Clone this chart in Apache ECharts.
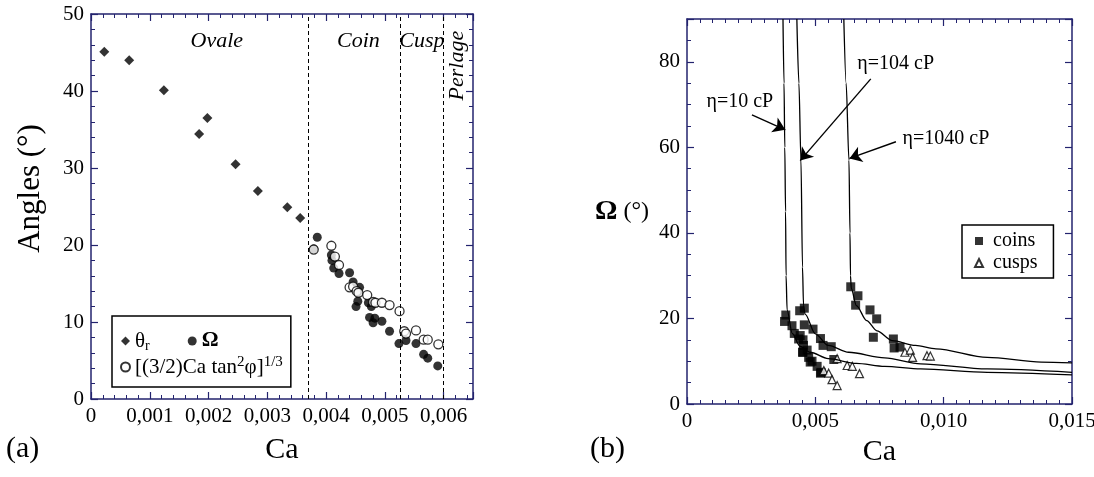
<!DOCTYPE html>
<html>
<head>
<meta charset="utf-8">
<title>Angles vs Ca</title>
<script src="https://cdn.jsdelivr.net/npm/echarts@6/dist/echarts.min.js"></script>
<style>
  html, body { margin: 0; padding: 0; background: #fff; }
  #chart { width: 1094px; height: 477px; }
</style>
</head>
<body>
<div id="chart"></div>
<script>
// ---- left panel (a): angles vs Ca ----
const thetaR = [
  [0.000226, 45.1], [0.00065, 44.0], [0.00124, 40.1], [0.00198, 36.5], [0.00184, 34.4],
  [0.00246, 30.5], [0.00284, 27.0], [0.00334, 24.9], [0.00356, 23.5]
];
const omegaA = [
  [0.00379, 19.5], [0.00385, 21.0], [0.00409, 18.7], [0.0041, 18.0], [0.00413, 17.0],
  [0.00422, 16.3], [0.0044, 16.4], [0.00446, 15.2], [0.00457, 14.5], [0.00454, 13.9],
  [0.00454, 12.7], [0.00451, 12.0], [0.00472, 12.5], [0.00477, 12.0], [0.00474, 10.6],
  [0.00483, 10.5], [0.0048, 9.9], [0.00495, 10.1], [0.00508, 8.8], [0.00524, 7.2],
  [0.00536, 7.6], [0.00553, 7.2], [0.00566, 5.8], [0.00573, 5.3], [0.0059, 4.3]
];
const formulaA = [
  [0.00379, 19.4], [0.00409, 19.9], [0.00415, 18.5], [0.00422, 17.4], [0.0044, 14.5],
  [0.00446, 14.6], [0.00452, 14.0], [0.00455, 13.8], [0.0047, 13.5], [0.0048, 12.6],
  [0.00484, 12.5], [0.00495, 12.5], [0.00508, 12.2], [0.00525, 11.4], [0.00533, 8.8],
  [0.00536, 8.5], [0.00553, 8.9], [0.00566, 7.7], [0.00573, 7.7], [0.00591, 7.1]
];
const regimeBounds = [0.0037, 0.00526, 0.006];
const regimeNames = ['Ovale', 'Coin', 'Cusp', 'Perlage'];
const regimeLabelPos = [[0.00214, 46.5], [0.00455, 46.5], [0.00563, 46.5], [0.00623, 43.3]];

// ---- right panel (b): Omega vs Ca ----
const coins = [
  [0.0038, 19.3], [0.00385, 20.8], [0.00409, 18.3], [0.00418, 16.5], [0.00439, 21.8],
  [0.00457, 22.4], [0.00457, 18.5], [0.00441, 16.0], [0.00452, 15.0], [0.00454, 13.7],
  [0.00452, 12.1], [0.00468, 12.6], [0.00474, 10.9], [0.00491, 17.5], [0.00487, 10.0],
  [0.00507, 8.8], [0.00522, 7.4], [0.0052, 15.3], [0.0053, 13.7], [0.00562, 13.4],
  [0.00572, 10.4], [0.00435, 15.2], [0.0045, 12.1], [0.0048, 9.8], [0.0052, 7.2],
  [0.00638, 27.4], [0.00666, 25.3], [0.00657, 23.1], [0.00713, 22.0], [0.00739, 19.9],
  [0.00726, 15.6], [0.00804, 15.2], [0.00807, 13.1], [0.0083, 13.3]
];
const cusps = [
  [0.00585, 10.6], [0.00624, 9.0], [0.00644, 8.8], [0.00672, 7.1], [0.00533, 7.8],
  [0.00552, 7.2], [0.00565, 5.7], [0.00585, 4.3], [0.00849, 12.1], [0.0087, 12.6],
  [0.00879, 10.9], [0.00935, 11.3], [0.00948, 11.2]
];
const curveEta10 = [
  [0.00374, 90], [0.00378, 75], [0.00381, 60], [0.00384, 45], [0.00386, 30], [0.0039, 22],
  [0.0041, 16.5], [0.0044, 13.5], [0.0048, 12.1], [0.0055, 10.6], [0.0066, 9.5],
  [0.0077, 8.8], [0.0091, 8.2], [0.0117, 7.4], [0.015, 6.8]
];
const curveEta104 = [
  [0.00428, 90], [0.00436, 75], [0.00444, 57], [0.0045, 32], [0.00454, 23], [0.0046, 21],
  [0.005, 16.4], [0.0055, 13.7], [0.0063, 12.1], [0.0077, 10.8], [0.0091, 9.4],
  [0.0117, 8.2], [0.015, 7.4]
];
const curveEta1040 = [
  [0.00611, 90], [0.0062, 75], [0.00631, 57], [0.00635, 40], [0.00637, 30], [0.0064, 27],
  [0.0066, 23], [0.007, 19.5], [0.0074, 17.1], [0.008, 14.8], [0.0089, 13.7],
  [0.0097, 12.9], [0.0117, 10.9], [0.0138, 9.8], [0.015, 9.6]
];
const etaLabels = ['η=10 cP', 'η=104 cP', 'η=1040 cP'];
const etaLabelPos = [[0.00206, 70.6], [0.00813, 79.5], [0.01009, 62]];
const etaArrows = [
  [[0.00253, 67.6], [0.00383, 64.1]],
  [[0.00716, 76], [0.00441, 56.9]],
  [[0.00814, 61.3], [0.00633, 57.4]]
];

const FONT = 'Liberation Serif';
const AXIS_COLOR = '#23236e';

function frameAxis(base, extra) {
  return Object.assign({
    type: 'value',
    axisLine: { show: true, onZero: false, lineStyle: { color: AXIS_COLOR, width: 1.5 } },
    axisTick: { show: true, inside: true, length: 7, lineStyle: { color: AXIS_COLOR, width: 1.2 } },
    splitLine: { show: false },
    axisLabel: { show: false }
  }, base, extra);
}

function minor(n) {
  return { show: true, splitNumber: n, length: 4, lineStyle: { color: AXIS_COLOR, width: 1 } };
}

const labelStyle = { show: true, color: '#000', fontFamily: FONT, fontSize: 21, margin: 7 };

const fmtComma = v => v === 0 ? '0' : v.toFixed(3).replace('.', ',');

const chart = echarts.init(document.getElementById('chart'));

const option = {
  animation: false,
  backgroundColor: '#fff',
  grid: [
    { left: 91, top: 14, width: 382, height: 385, outerBoundsMode: 'none' },
    { left: 687, top: 19, width: 385, height: 385, outerBoundsMode: 'none' }
  ],
  xAxis: [
    frameAxis({ gridIndex: 0, min: 0, max: 0.0065, interval: 0.001, minorTick: minor(5) }, {
      position: 'bottom',
      axisLabel: Object.assign({}, labelStyle, { formatter: v => v > 0.00601 ? '' : fmtComma(v) }),
      name: 'Ca', nameLocation: 'middle', nameGap: 36,
      nameTextStyle: { color: '#000', fontFamily: FONT, fontSize: 30 }
    }),
    frameAxis({ gridIndex: 0, min: 0, max: 0.0065, interval: 0.001, minorTick: minor(5) }, { position: 'top' }),
    frameAxis({ gridIndex: 1, min: 0, max: 0.015, interval: 0.005, minorTick: minor(10) }, {
      position: 'bottom',
      axisLabel: Object.assign({}, labelStyle, { formatter: fmtComma }),
      name: 'Ca', nameLocation: 'middle', nameGap: 31,
      nameTextStyle: { color: '#000', fontFamily: FONT, fontSize: 30 }
    }),
    frameAxis({ gridIndex: 1, min: 0, max: 0.015, interval: 0.005, minorTick: minor(10) }, { position: 'top' })
  ],
  yAxis: [
    frameAxis({ gridIndex: 0, min: 0, max: 50, interval: 10, minorTick: minor(5) }, {
      position: 'left',
      axisLabel: labelStyle,
      name: 'Angles (°)', nameLocation: 'middle', nameGap: 45,
      nameTextStyle: { color: '#000', fontFamily: FONT, fontSize: 31, padding: [0, 0, 0, 36] }
    }),
    frameAxis({ gridIndex: 0, min: 0, max: 50, interval: 10, minorTick: minor(5) }, { position: 'right' }),
    frameAxis({ gridIndex: 1, min: 0, max: 90, interval: 20, minorTick: minor(4) }, {
      position: 'left',
      axisLabel: Object.assign({}, labelStyle, { formatter: v => v > 80 ? '' : String(v) }),
      name: '{o|Ω} (°)', nameLocation: 'middle', nameGap: 38, nameRotate: 0,
      nameTextStyle: {
        color: '#000', fontFamily: FONT, fontSize: 24, align: 'right',
        rich: { o: { fontFamily: FONT, fontSize: 28, fontWeight: 'bold', color: '#000' } }
      }
    }),
    frameAxis({ gridIndex: 1, min: 0, max: 90, interval: 20, minorTick: minor(4) }, { position: 'right' })
  ],
  legend: [
    {
      data: ['theta', 'omega', 'formula'],
      left: 112, top: 316, width: 168,
      orient: 'horizontal',
      itemWidth: 9, itemHeight: 9, itemGap: 2,
      padding: [13, 8, 8, 8],
      borderColor: '#000', borderWidth: 1.5,
      backgroundColor: '#fff',
      selectedMode: false,
      formatter: name => {
        if (name === 'theta') return 'θ{sub|r}{gap|}';
        if (name === 'omega') return '{b|Ω}';
        return '[(3/2)Ca tan{sup|2}φ]{sup|1/3}';
      },
      textStyle: {
        color: '#000', fontFamily: FONT, fontSize: 21, lineHeight: 24,
        rich: {
          sub: { fontFamily: FONT, fontSize: 14, verticalAlign: 'bottom', lineHeight: 24, color: '#000' },
          sup: { fontFamily: FONT, fontSize: 15, verticalAlign: 'top', lineHeight: 24, color: '#000' },
          b: { fontFamily: FONT, fontSize: 21, fontWeight: 'bold', color: '#000' },
          gap: { width: 36 }
        }
      }
    },
    {
      data: ['coins', 'cusps'],
      left: 962, top: 225,
      orient: 'vertical',
      itemWidth: 8, itemHeight: 8, itemGap: 2,
      padding: [6, 16, 5, 12],
      borderColor: '#000', borderWidth: 1.5,
      backgroundColor: '#fff',
      selectedMode: false,
      textStyle: { color: '#000', fontFamily: FONT, fontSize: 20, padding: [0, 0, 0, 5] }
    }
  ],
  graphic: [
    { type: 'text', left: 6, top: 434, style: { text: '(a)', font: '30px "Liberation Serif"', fill: '#000' } },
    { type: 'text', left: 590, top: 434, style: { text: '(b)', font: '30px "Liberation Serif"', fill: '#000' } }
  ],
  series: [
    {
      name: 'theta', type: 'scatter', xAxisIndex: 0, yAxisIndex: 0,
      symbol: 'diamond', symbolSize: 10,
      itemStyle: { color: '#000' },
      data: thetaR,
      markLine: {
        silent: true, symbol: ['none', 'none'],
        label: { show: false },
        lineStyle: { color: '#000', width: 1, type: [4, 3] },
        data: regimeBounds.map(v => [{ coord: [v, 0] }, { coord: [v, 50] }])
      },
      markPoint: {
        silent: true, symbol: 'circle', symbolSize: 0,
        data: regimeNames.map((n, i) => ({
          name: n, coord: regimeLabelPos[i],
          label: { rotate: n === 'Perlage' ? 90 : 0 }
        })),
        label: {
          show: true, position: 'inside', formatter: p => p.name,
          color: '#000', fontFamily: FONT, fontSize: 22, fontStyle: 'italic'
        }
      }
    },
    {
      name: 'omega', type: 'scatter', xAxisIndex: 0, yAxisIndex: 0,
      symbol: 'circle', symbolSize: 9,
      itemStyle: { color: '#000' },
      data: omegaA
    },
    {
      name: 'formula', type: 'scatter', xAxisIndex: 0, yAxisIndex: 0,
      symbol: 'circle', symbolSize: 9,
      itemStyle: { color: '#fff', borderColor: '#000', borderWidth: 1.3 },
      data: formulaA
    },
    {
      name: 'eta10', type: 'line', xAxisIndex: 2, yAxisIndex: 2,
      showSymbol: false, symbol: 'none', smooth: 0.3, smoothMonotone: 'x',
      lineStyle: { color: '#000', width: 1.3 },
      data: curveEta10,
      markLine: {
        silent: true, symbol: ['none', 'arrow'], symbolSize: 12,
        label: { show: false },
        lineStyle: { color: '#000', width: 1.4, type: 'solid' },
        data: etaArrows.map(a => [{ coord: a[0] }, { coord: a[1] }])
      },
      markPoint: {
        silent: true, symbol: 'circle', symbolSize: 0,
        data: etaLabels.map((n, i) => ({ name: n, coord: etaLabelPos[i] })),
        label: {
          show: true, position: 'inside', formatter: p => p.name,
          color: '#000', fontFamily: FONT, fontSize: 20
        }
      }
    },
    {
      name: 'eta104', type: 'line', xAxisIndex: 2, yAxisIndex: 2,
      showSymbol: false, symbol: 'none', smooth: 0.3, smoothMonotone: 'x',
      lineStyle: { color: '#000', width: 1.3 },
      data: curveEta104
    },
    {
      name: 'eta1040', type: 'line', xAxisIndex: 2, yAxisIndex: 2,
      showSymbol: false, symbol: 'none', smooth: 0.3, smoothMonotone: 'x',
      lineStyle: { color: '#000', width: 1.3 },
      data: curveEta1040
    },
    {
      name: 'coins', type: 'scatter', xAxisIndex: 2, yAxisIndex: 2,
      symbol: 'rect', symbolSize: 9,
      itemStyle: { color: '#000' },
      data: coins
    },
    {
      name: 'cusps', type: 'scatter', xAxisIndex: 2, yAxisIndex: 2,
      symbol: 'triangle', symbolSize: 8,
      itemStyle: { color: '#fff', borderColor: '#000', borderWidth: 1.2 },
      data: cusps
    }
  ]
};

chart.setOption(option);

window.addEventListener('resize', function () {
  chart.resize();
});
</script>
</body>
</html>
